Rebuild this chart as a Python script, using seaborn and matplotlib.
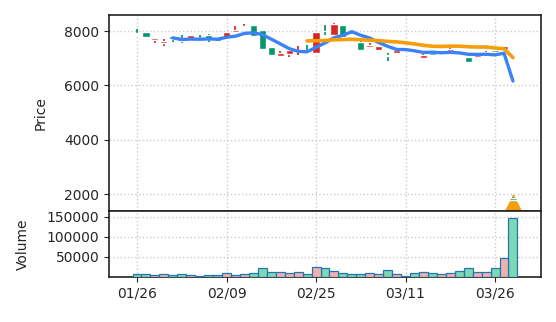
import numpy as np
import pandas as pd
import matplotlib
matplotlib.use("Agg")
import matplotlib.pyplot as plt
import seaborn as sns

# ---- data ----
tick_labels = ["01/26", "02/09", "02/25", "03/11", "03/26"]
tick_index = [0, 10, 20, 30, 40]

opens = [7930, 7960, 7680, 7550, 7810, 7760, 7720, 7760, 7870, 7780,
         7800, 7960, 8150, 8210, 8030, 7400, 7090, 7150, 7280, 7300,
         7200, 8010, 7850, 8210, 7980, 7610, 7420, 7300, 7140, 7200,
         7350, 7300, 7000, 7200, 7180, 7270, 7230, 7050, 7040, 7150,
         7300, 7330, 1870]
highs = [8080, 7975, 7740, 7700, 7820, 7860, 7860, 7860, 7880, 7790,
         7980, 8180, 8250, 8230, 8040, 7410, 7260, 7420, 7440, 7480,
         7980, 8210, 8290, 8220, 8000, 7620, 7560, 7460, 7200, 7340,
         7360, 7310, 7160, 7210, 7230, 7370, 7240, 7060, 7120, 7260,
         7310, 7450, 1880]
lows = [7900, 7770, 7580, 7460, 7610, 7570, 7700, 7680, 7610, 7610,
        7780, 7920, 8100, 7810, 7320, 7110, 7030, 7050, 7120, 7230,
        7200, 7850, 7850, 7770, 7880, 7290, 7400, 7290, 6910, 7190,
        7270, 7240, 6990, 7120, 7170, 7260, 7140, 6820, 7030, 7140,
        7240, 7320, 1760]
closes = [7910, 7780, 7730, 7640, 7700, 7620, 7850, 7700, 7700, 7650,
          7970, 8060, 8200, 7820, 7330, 7120, 7200, 7320, 7310, 7250,
          7960, 7990, 8270, 7780, 7900, 7300, 7480, 7440, 7090, 7320,
          7280, 7250, 7140, 7130, 7220, 7360, 7150, 6880, 7110, 7250,
          7250, 7440, 1770]
volumes = [6700, 6700, 4000, 5800, 4000, 6700, 4000, 1700, 4000, 4000,
           10000, 5000, 5800, 8300, 21700, 11700, 11700, 9200, 11700, 6700,
           23300, 21700, 14200, 9200, 5800, 5800, 9200, 5800, 16700, 5800,
           1700, 9200, 12500, 9200, 6700, 9200, 15000, 21700, 11700, 11700,
           21700, 46700, 148000]
signal_index = [42]
signal_price = [1710]

UP = "#dc2626"
DOWN = "#059669"
VOL_UP = "#fca5a5"
VOL_DOWN = "#6ee7b7"

df = pd.DataFrame({"i": np.arange(len(closes)), "open": opens, "high": highs,
                   "low": lows, "close": closes, "volume": volumes})
df["up"] = df["close"] >= df["open"]
df["ma5"] = df["close"].rolling(5).mean()
df["ma20"] = df["close"].rolling(20).mean()
df["dir"] = np.where(df["up"], "up", "down")

sns.set_style("ticks")
plt.rcParams["font.family"] = ["DejaVu Sans"]

fig = plt.figure(figsize=(5.56, 3.22), dpi=100)
ax1 = fig.add_axes([0.196, 0.345, 0.777, 0.608])
ax2 = fig.add_axes([0.196, 0.141, 0.777, 0.204], sharex=ax1)

# candles
cols = np.where(df["up"], UP, DOWN)
ax1.vlines(df["i"], df["low"], df["high"], colors=cols, lw=1.3, zorder=3)
body_lo = np.minimum(df["open"], df["close"])
body_h = np.maximum(np.abs(df["close"] - df["open"]), 30)
ax1.bar(df["i"], body_h, bottom=body_lo, width=0.8, color=cols, zorder=3)

# moving averages
sns.lineplot(data=df, x="i", y="ma5", color="#3b82f6", lw=2.4, ax=ax1, zorder=4)
sns.lineplot(data=df, x="i", y="ma20", color="#f59e0b", lw=2.6, ax=ax1, zorder=4)

# signal marker
ax1.scatter(signal_index, signal_price, marker="^", s=150, color="#f59e0b",
            zorder=2.5, linewidths=0)

ax1.set_ylim(1380, 8590)
ax1.set_xlim(-3.13, 45.13)
ax1.set_yticks([2000, 4000, 6000, 8000])
ax1.set_ylabel("Price", labelpad=12)
ax1.set_xlabel("")
ax1.tick_params(labelbottom=False, bottom=False)
ax1.grid(True, linestyle=":", color="#cccccc", lw=1)

# volume
sns.barplot(data=df, x="i", y="volume", hue="dir", native_scale=True,
            palette={"up": VOL_UP, "down": VOL_DOWN}, dodge=False, width=1.0,
            edgecolor="#1f77b4", linewidth=0.9, legend=False, ax=ax2, zorder=3)
ax2.set_ylim(0, 165000)
ax2.set_yticks([50000, 100000, 150000])
ax2.set_yticklabels(["50000", "100000", "150000"])
ax2.set_ylabel("Volume", labelpad=12)
ax2.set_xlabel("")
ax2.set_xticks(tick_index)
ax2.set_xticklabels(tick_labels)
ax2.set_xlim(-3.13, 45.13)
ax2.grid(True, linestyle=":", color="#cccccc", lw=1)

for ax in (ax1, ax2):
    for s in ax.spines.values():
        s.set_visible(True)
        s.set_color("#222222")
        s.set_linewidth(1.2)
    ax.set_axisbelow(True)

fig.savefig("out.png", dpi=100)
